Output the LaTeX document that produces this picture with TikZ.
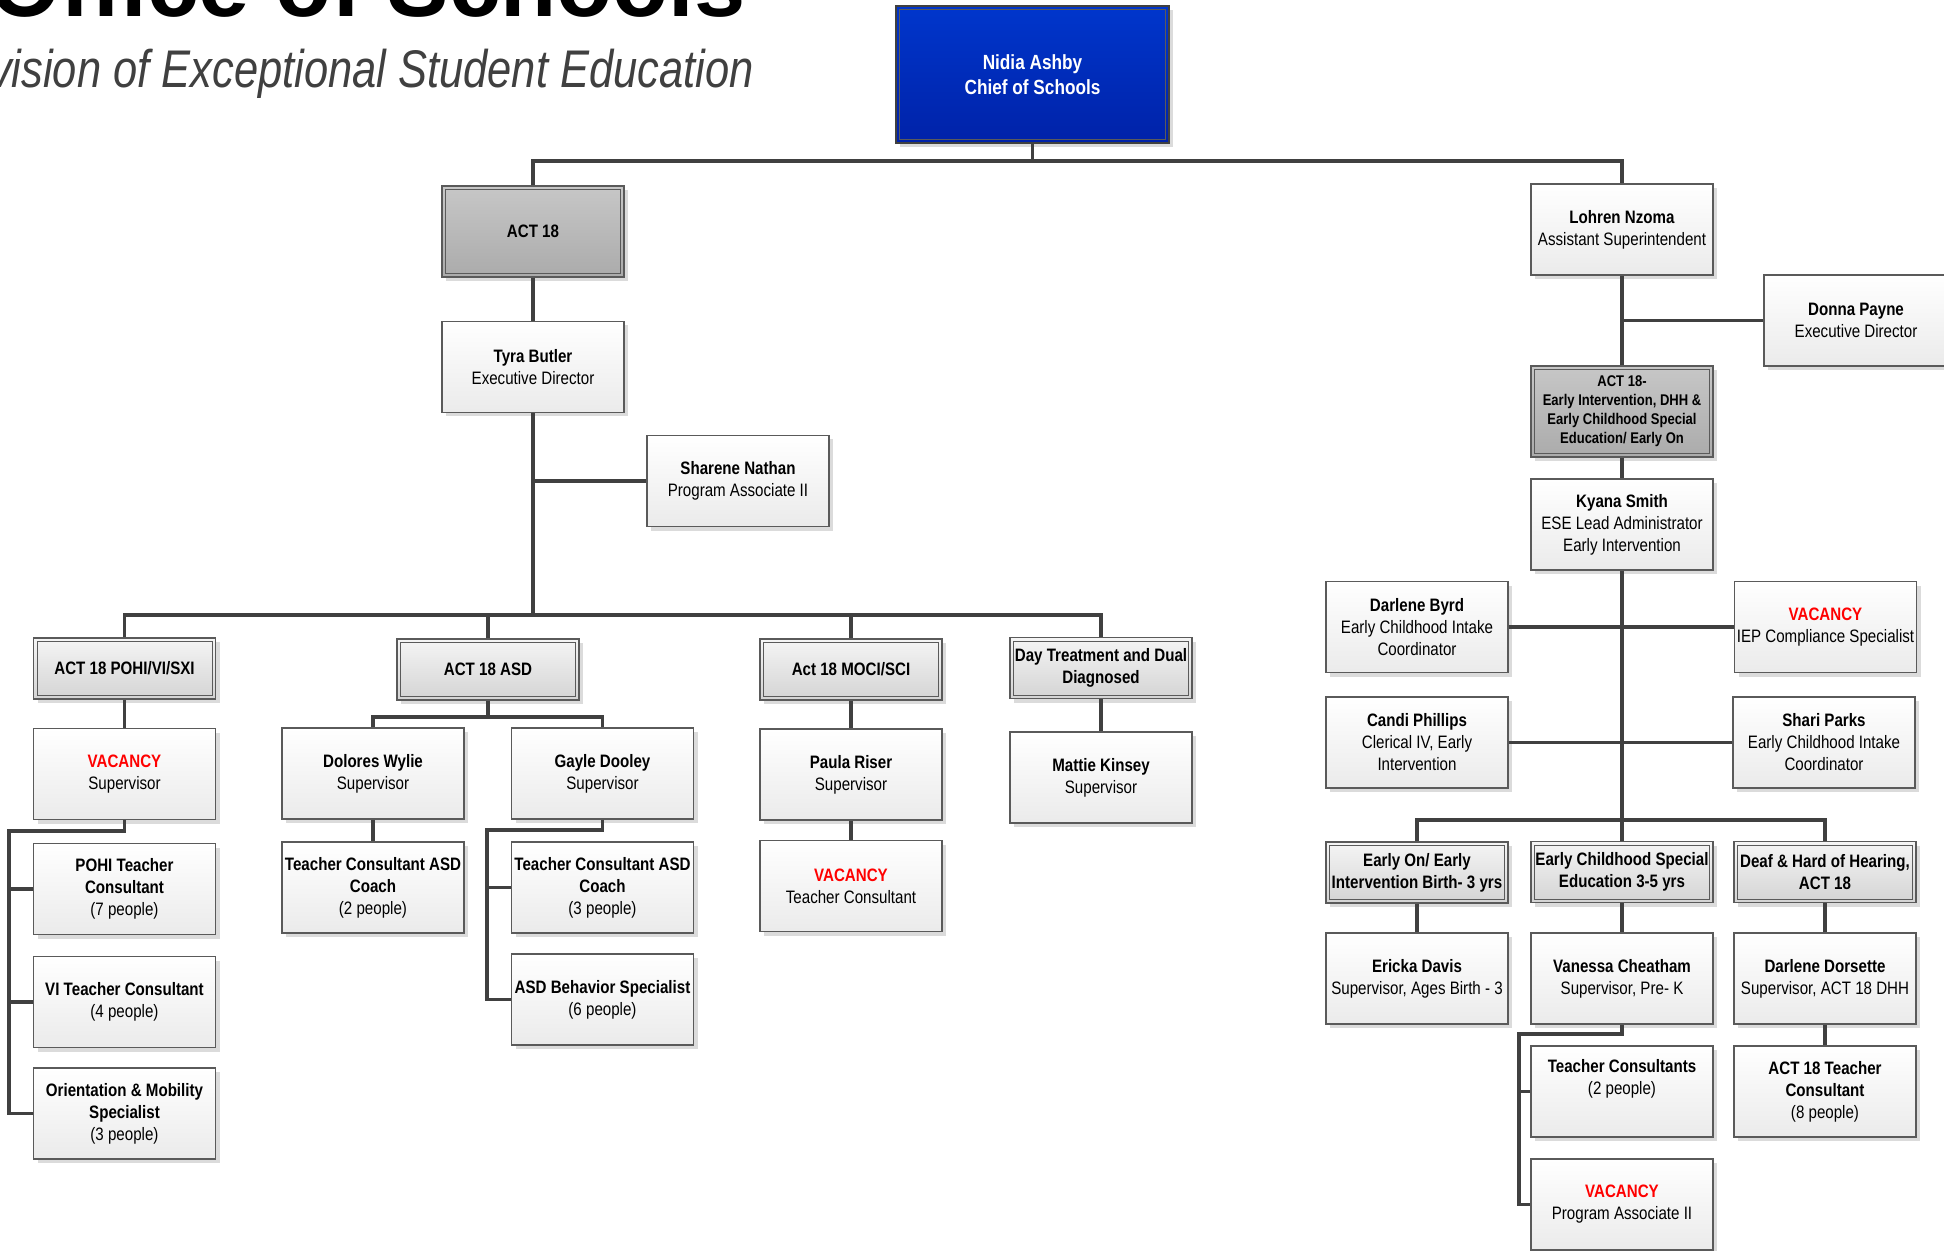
\documentclass[tikz,border=0pt]{standalone}
\usepackage{fontspec}
\setmainfont{Liberation Sans}[FakeStretch=0.84]
\newfontfamily\headfont{Liberation Sans}
\newfontfamily\subfont{Liberation Sans}[FakeStretch=0.82]
\usetikzlibrary{shadows}
\definecolor{boxline}{HTML}{5A5A5A}
\definecolor{linegray}{HTML}{404040}
\definecolor{chieftop}{HTML}{0036CC}
\definecolor{chiefbot}{HTML}{0022A8}
\definecolor{vacred}{HTML}{FF0000}
\definecolor{subgray}{HTML}{404040}
\newcommand{\nm}[1]{\textbf{#1}}
\newcommand{\vac}{\textcolor{vacred}{\textbf{VACANCY}}}
\tikzset{
  inner frame/.style={path picture={%
    \draw[boxline, line width=0.5pt] ([shift={(1.75pt,-1.75pt)}]path picture bounding box.north west)
      rectangle ([shift={(-1.75pt,1.75pt)}]path picture bounding box.south east);}},
  box/.style={rectangle, draw=boxline, line width=0.75pt, inner sep=0pt, align=center,
    minimum width=91pt, minimum height=45.5pt, font=\fontsize{9pt}{11pt}\selectfont,
    drop shadow={shadow xshift=2pt, shadow yshift=-2pt, fill=black!14, opacity=1}},
  person/.style={box, top color=white, bottom color=black!8},
  unit/.style={box, minimum height=30.5pt, top color=black!4, bottom color=black!17,
    font=\fontsize{9pt}{11pt}\selectfont\bfseries, inner frame},
  dept/.style={box, top color=black!22, bottom color=black!33,
    font=\fontsize{9pt}{11pt}\selectfont\bfseries, inner frame},
  chief/.style={box, minimum width=136.5pt, minimum height=68.5pt, draw=black!75,
    top color=chieftop, bottom color=chiefbot, text=white,
    font=\fontsize{10.25pt}{12.5pt}\selectfont\bfseries, inner frame},
  link/.style={draw=linegray, line width=1.6pt},
}
\begin{document}
\begin{tikzpicture}[x=0.5pt, y=-0.5pt]
  \fill[white] (0,0) rectangle (1944,1251);
  \path[use as bounding box, clip] (0,0) rectangle (1944,1251);

  \node[anchor=base east, inner sep=0pt, font=\headfont\fontsize{46pt}{46pt}\selectfont\bfseries] (title) at (746,17) {Office of Schools};
  \node[anchor=base east, inner sep=0pt, text=subgray, font=\subfont\fontsize{26.5pt}{26.5pt}\selectfont\itshape] (subtitle) at (754,88) {Division of Exceptional Student Education};

  % top
  \node[chief] (nidia) at (1032.5,74.5) {Nidia Ashby\\Chief of Schools};
  \node[dept] (act18) at (533,231.5) {ACT 18};
  \node[person] (tyra) at (533,367) {\nm{Tyra Butler}\\Executive Director};
  \node[person] (sharene) at (738,481) {\nm{Sharene Nathan}\\Program Associate II};
  \node[person] (lohren) at (1622,229.5) {\nm{Lohren Nzoma}\\Assistant Superintendent};
  \node[person, minimum width=92pt] (donna) at (1856,320.5) {\nm{Donna Payne}\\Executive Director};
  \node[dept, font=\fontsize{7.75pt}{9.5pt}\selectfont\bfseries] (act18ei) at (1622,411.5) {ACT 18-\\Early Intervention, DHH \&\\Early Childhood Special\\Education/ Early On};
  \node[person] (kyana) at (1622,524.5) {\nm{Kyana Smith}\\ESE Lead Administrator\\Early Intervention};

  % act 18 units
  \node[unit] (pohi) at (124.5,668.5) {ACT 18 POHI/VI/SXI};
  \node[unit] (asd) at (488,669.5) {ACT 18 ASD};
  \node[unit] (moci) at (851,669.5) {Act 18 MOCI/SCI};
  \node[unit] (dayt) at (1101,668) {Day Treatment and Dual\\Diagnosed};

  \node[person] (vacpohi) at (124.5,774) {\vac\\Supervisor};
  \node[person] (pohitc) at (124.5,889) {\nm{POHI Teacher}\\\nm{Consultant}\\(7 people)};
  \node[person] (vitc) at (124.5,1002) {\nm{VI Teacher Consultant}\\(4 people)};
  \node[person] (om) at (124.5,1113.5) {\nm{Orientation \& Mobility}\\\nm{Specialist}\\(3 people)};

  \node[person] (dolores) at (373,773.5) {\nm{Dolores Wylie}\\Supervisor};
  \node[person] (gayle) at (602.5,773.5) {\nm{Gayle Dooley}\\Supervisor};
  \node[person] (tcasd2) at (373,887.5) {\nm{Teacher Consultant ASD}\\\nm{Coach}\\(2 people)};
  \node[person] (tcasd3) at (602.5,887.5) {\nm{Teacher Consultant ASD}\\\nm{Coach}\\(3 people)};
  \node[person] (asdbeh) at (602.5,999.5) {\nm{ASD Behavior Specialist}\\(6 people)};

  \node[person] (paula) at (851,774.5) {\nm{Paula Riser}\\Supervisor};
  \node[person] (vacmoci) at (851,886) {\vac\\Teacher Consultant};
  \node[person] (mattie) at (1101,777.5) {\nm{Mattie Kinsey}\\Supervisor};

  % early intervention side
  \node[person] (byrd) at (1417,627) {\nm{Darlene Byrd}\\Early Childhood Intake\\Coordinator};
  \node[person] (vaciep) at (1825.5,627) {\vac\\IEP Compliance Specialist};
  \node[person] (candi) at (1417,742.5) {\nm{Candi Phillips}\\Clerical IV, Early\\Intervention};
  \node[person] (shari) at (1824,742.5) {\nm{Shari Parks}\\Early Childhood Intake\\Coordinator};

  \node[unit] (earlyon) at (1417,872.5) {Early On/ Early\\Intervention Birth- 3 yrs};
  \node[unit] (ecse) at (1622,872) {Early Childhood Special\\Education 3-5 yrs};
  \node[unit] (dhh) at (1825,872) {Deaf \& Hard of Hearing,\\ACT 18};

  \node[person] (ericka) at (1417,978.5) {\nm{Ericka Davis}\\Supervisor, Ages Birth - 3};
  \node[person] (vanessa) at (1622,978.5) {\nm{Vanessa Cheatham}\\Supervisor, Pre- K};
  \node[person] (dorsette) at (1825,978.5) {\nm{Darlene Dorsette}\\Supervisor, ACT 18 DHH};
  \node[person] (tcons) at (1622,1091.5) {\nm{Teacher Consultants}\\(2 people)\\\strut};
  \node[person] (vacpa) at (1622,1204.5) {\vac\\Program Associate II};
  \node[person] (act18tc) at (1825,1091.5) {\nm{ACT 18 Teacher}\\\nm{Consultant}\\(8 people)};

  % connectors
  \coordinate (topbus) at (1032.5,161);
  \draw[link] (nidia.south) -- (topbus);
  \draw[link] (act18.north) |- (topbus) -| (lohren.north);
  \draw[link] (act18.south) -- (tyra.north);

  \coordinate (leftbus) at (533,615);
  \draw[link] (tyra.south) -- (leftbus);
  \draw[link] (sharene.west) -- (sharene.west -| tyra.south);
  \draw[link] (pohi.north) |- (leftbus) -| (dayt.north);
  \draw[link] (asd.north) -- (asd.north |- leftbus);
  \draw[link] (moci.north) -- (moci.north |- leftbus);

  \coordinate (pohispine) at (9,831);
  \draw[link] (pohi.south) -- (vacpohi.north);
  \draw[link] (vacpohi.south) |- (pohispine) |- (om.west);
  \draw[link] (pohitc.west) -- (pohitc.west -| pohispine);
  \draw[link] (vitc.west) -- (vitc.west -| pohispine);

  \coordinate (asdbus) at (488,717);
  \draw[link] (asd.south) -- (asdbus);
  \draw[link] (dolores.north) |- (asdbus) -| (gayle.north);
  \draw[link] (dolores.south) -- (tcasd2.north);
  \coordinate (gaylespine) at (487,830);
  \draw[link] (gayle.south) |- (gaylespine) |- (asdbeh.west);
  \draw[link] (tcasd3.west) -- (tcasd3.west -| gaylespine);

  \draw[link] (moci.south) -- (paula.north);
  \draw[link] (paula.south) -- (vacmoci.north);
  \draw[link] (dayt.south) -- (mattie.north);

  \coordinate (rightbus) at (1622,820);
  \draw[link] (lohren.south) -- (act18ei.north);
  \draw[link] (donna.west) -- (donna.west -| lohren.south);
  \draw[link] (act18ei.south) -- (kyana.north);
  \draw[link] (kyana.south) -- (rightbus);
  \draw[link] (byrd.east) -- (vaciep.west);
  \draw[link] (candi.east) -- (shari.west);
  \draw[link] (earlyon.north) |- (rightbus) -| (dhh.north);
  \draw[link] (ecse.north) -- (ecse.north |- rightbus);

  \draw[link] (earlyon.south) -- (ericka.north);
  \draw[link] (ecse.south) -- (vanessa.north);
  \draw[link] (dhh.south) -- (dorsette.north);
  \draw[link] (dorsette.south) -- (act18tc.north);
  \coordinate (vanspine) at (1519,1034);
  \draw[link] (vanessa.south) |- (vanspine) |- (vacpa.west);
  \draw[link] (tcons.west) -- (tcons.west -| vanspine);
\end{tikzpicture}
\end{document}
